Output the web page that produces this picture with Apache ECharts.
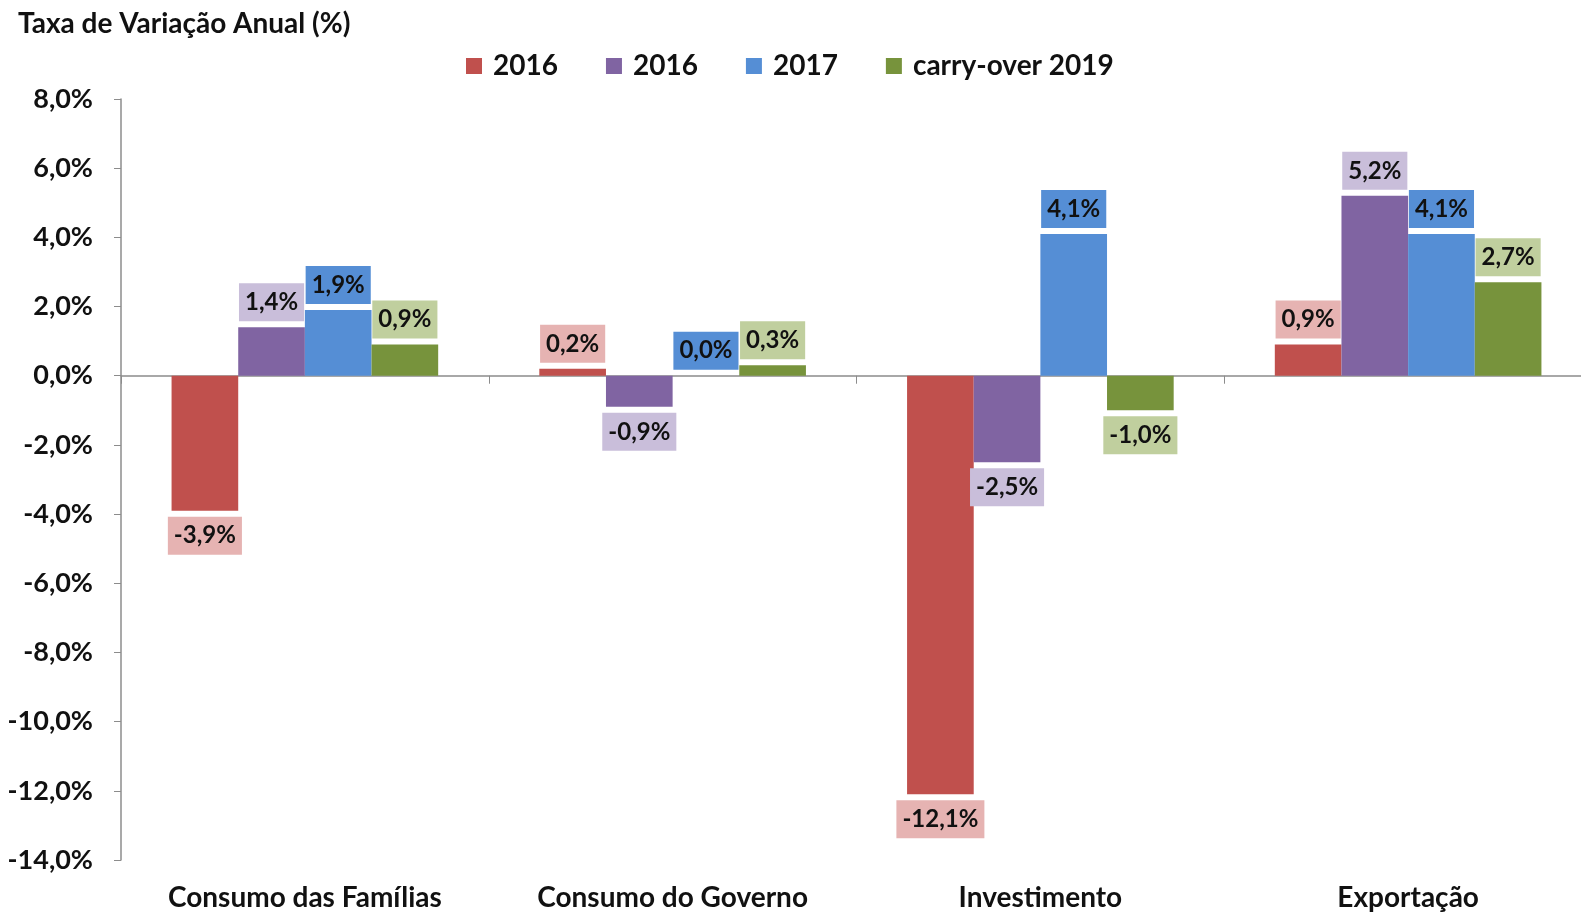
<!DOCTYPE html>
<html>
<head>
<meta charset="utf-8">
<script src="https://cdn.jsdelivr.net/npm/echarts@6/dist/echarts.min.js"></script>
<style>
    html, body { margin: 0; padding: 0; background: #fff; }
    #chart { width: 1581px; height: 913px; }
</style>
</head>
<body>
<div id="chart"></div>
<script>
// categorias e séries
const categories = ["Consumo das Famílias", "Consumo do Governo", "Investimento", "Exportação"];
const seriesNames = ["2016", "2016", "2017", "carry-over 2019"];
const values2016a = [-3.9, 0.2, -12.1, 0.9];
const values2016b = [1.4, -0.9, -2.5, 5.2];
const values2017 = [1.9, 0.0, 4.1, 4.1];
const valuesCarry = [0.9, 0.3, -1.0, 2.7];

const barColors = ["#C0504D", "#8064A2", "#558ED5", "#77933C"];
const labelColors = ["#E6B3B2", "#C9BEDA", "#558ED5", "#C0CF9E"];
const font = "Lato, 'Open Sans', sans-serif";

const fmt = (v) => v.toFixed(1).replace(".", ",") + "%";

const chart = echarts.init(document.getElementById("chart"));

const allValues = [values2016a, values2016b, values2017, valuesCarry];

const series = allValues.map((vals, i) => ({
    name: "s" + i,
    type: "bar",
    xAxisIndex: 0,
    barGap: "0%",
    barCategoryGap: "27.5%",
    itemStyle: { color: barColors[i] },
    label: {
        show: true,
        distance: 6,
        formatter: (p) => fmt(p.value),
        fontFamily: font,
        fontWeight: "bold",
        fontSize: 24,
        color: "#111",
        backgroundColor: labelColors[i],
        padding: [7, 6],
        lineHeight: 24,
    },
    // positivo em cima, negativo em baixo
    data: vals.map((v) => ({
        value: v,
        label: { position: v >= 0 ? "top" : "bottom" },
    })),
}));

chart.setOption({
    animation: false,
    title: {
        text: "Taxa de Variação Anual (%)",
        left: 13,
        top: 5,
        textStyle: { fontFamily: font, fontWeight: "bold", fontSize: 28, color: "#111" },
    },
    legend: {
        data: ["s0", "s1", "s2", "s3"],
        formatter: (name) => seriesNames[Number(name.slice(1))],
        left: 461,
        top: 47,
        itemWidth: 16,
        itemHeight: 16,
        itemGap: 48,
        icon: "rect",
        textStyle: {
            fontFamily: font,
            fontWeight: "bold",
            fontSize: 28,
            color: "#111",
            padding: [0, 0, 0, 6],
        },
    },
    grid: {
        left: 121,
        right: -11,
        top: 99,
        bottom: 53,
        outerBoundsMode: "none",
    },
    xAxis: [
        {
            type: "category",
            data: categories,
            position: "bottom",
            axisLine: { show: false, onZero: false },
            axisTick: { show: false },
            axisLabel: {
                margin: 24,
                fontFamily: font,
                fontWeight: "bold",
                fontSize: 28,
                color: "#111",
            },
        },
        {
            type: "category",
            data: categories,
            position: "bottom",
            axisLine: { show: true, onZero: true, lineStyle: { color: "#8c8c8c", width: 1.5 } },
            axisTick: { show: true, length: 8, lineStyle: { color: "#8c8c8c" } },
            axisLabel: { show: false },
        },
    ],
    yAxis: {
        type: "value",
        min: -14,
        max: 8,
        interval: 2,
        axisLine: { show: true, lineStyle: { color: "#8c8c8c", width: 1.5 } },
        axisTick: { show: true, length: 7, lineStyle: { color: "#8c8c8c" } },
        splitLine: { show: false },
        axisLabel: {
            margin: 28,
            formatter: (v) => fmt(v),
            fontFamily: font,
            fontWeight: "bold",
            fontSize: 27,
            color: "#111",
        },
    },
    series: series,
});
</script>
</body>
</html>
